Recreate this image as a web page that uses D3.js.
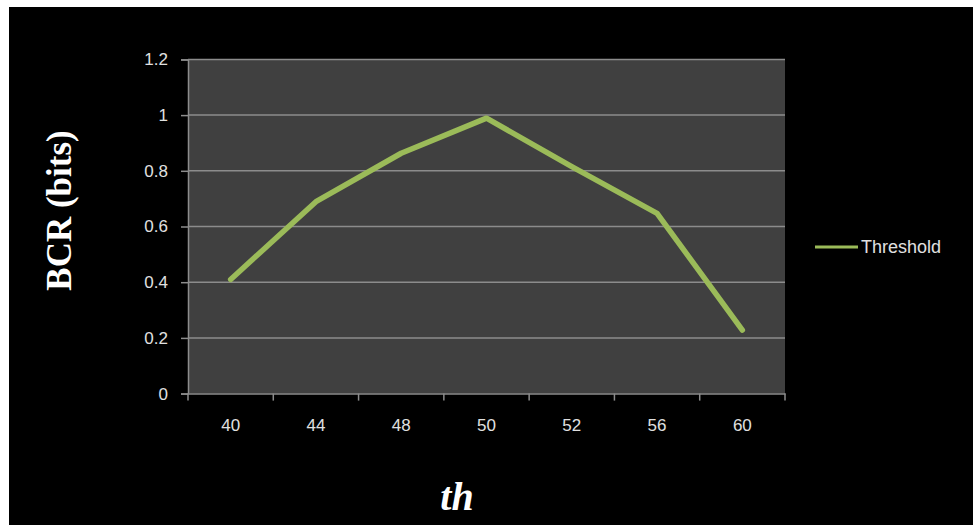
<!DOCTYPE html>
<html><head><meta charset="utf-8">
<script src="https://cdn.jsdelivr.net/npm/d3@7"></script>
<style>html,body{margin:0;padding:0;background:#fff;}svg{display:block;}</style>
</head><body>
<script>
const categories = ["40","44","48","50","52","56","60"];
const values = [0.41, 0.689, 0.863, 0.989, 0.815, 0.647, 0.228];
const yTicks = [0, 0.2, 0.4, 0.6, 0.8, 1, 1.2];
const seriesName = "Threshold";
const yTitle = "BCR (bits)";
const xTitle = "th";

const W = 973, H = 525;
const svg = d3.select("body").append("svg").attr("width", W).attr("height", H);
svg.append("rect").attr("x",9).attr("y",7).attr("width",W-9).attr("height",H-7).attr("fill","#000");

const L = 188, R = 785, T = 59.4, B = 393.6;
const x = d3.scaleBand().domain(categories).range([L, R]);
const y = d3.scaleLinear().domain([0, 1.2]).range([B, T]);

svg.append("rect").attr("x",L).attr("y",T).attr("width",R-L).attr("height",B-T).attr("fill","#404040");

// gridlines
svg.append("g").selectAll("line").data(yTicks.filter(d=>d>0)).join("line")
  .attr("x1",L).attr("x2",R).attr("y1",d=>y(d)).attr("y2",d=>y(d))
  .attr("stroke","#8c8c8c").attr("stroke-width",1.5);

// y axis
const ya = svg.append("g").attr("transform",`translate(${L},0)`)
  .call(d3.axisLeft(y).tickValues(yTicks).tickSize(7).tickPadding(13).tickFormat(d=>d3.format("")(d)));
ya.select(".domain").attr("stroke","#8c8c8c").attr("stroke-width",1.5);
ya.selectAll(".tick line").attr("stroke","#8c8c8c").attr("stroke-width",1.5);
ya.selectAll("text").attr("fill","#e0e0e0").style("font-family","Liberation Sans, Arial, sans-serif").style("font-size","17px");

// x axis
const xa = svg.append("g").attr("transform",`translate(0,${B})`)
  .call(d3.axisBottom(x).tickSize(0).tickPadding(25));
xa.select(".domain").attr("stroke","#8c8c8c").attr("stroke-width",1.5);
xa.selectAll("text").attr("fill","#e0e0e0").style("font-family","Liberation Sans, Arial, sans-serif").style("font-size","17px");
// boundary ticks
const bounds = categories.map(c=>x(c)).concat([x(categories[categories.length-1])+x.bandwidth()]);
svg.append("g").selectAll("line").data(bounds).join("line")
  .attr("x1",d=>d).attr("x2",d=>d).attr("y1",B).attr("y2",B+7)
  .attr("stroke","#8c8c8c").attr("stroke-width",1.5);

// line
const line = d3.line().x((d,i)=>x(categories[i])+x.bandwidth()/2).y(d=>y(d));
svg.append("path").datum(values).attr("d",line).attr("fill","none")
  .attr("stroke","#9bbb59").attr("stroke-width",5.5).attr("stroke-linejoin","round").attr("stroke-linecap","round");

// legend
svg.append("line").attr("x1",815).attr("x2",858).attr("y1",247).attr("y2",247)
  .attr("stroke","#9bbb59").attr("stroke-width",3);
svg.append("text").attr("x",861).attr("y",247).attr("dy","0.35em").text(seriesName)
  .attr("fill","#e0e0e0").style("font-family","Liberation Sans, Arial, sans-serif").style("font-size","18px");

// titles
svg.append("text").attr("transform","translate(59,210.5) rotate(-90)").attr("text-anchor","middle").attr("dy","0.35em")
  .text(yTitle).attr("fill","#fff").style("font-family","Liberation Serif, Times New Roman, serif")
  .style("font-weight","bold").style("font-size","35px");
svg.append("text").attr("x",457).attr("y",510).attr("text-anchor","middle")
  .text(xTitle).attr("fill","#fff").style("font-family","Liberation Serif, Times New Roman, serif")
  .style("font-weight","bold").style("font-style","italic").style("font-size","40px");
</script>
</body></html>
